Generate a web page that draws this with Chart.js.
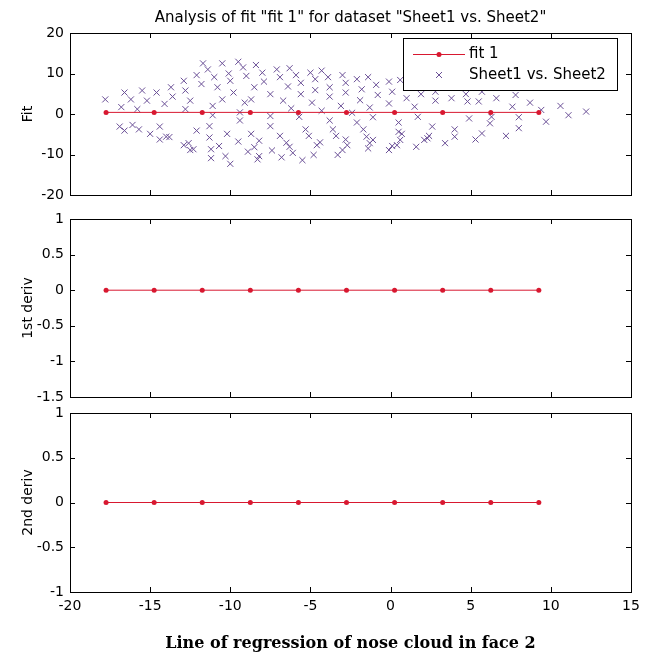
<!DOCTYPE html>
<html>
<head>
<meta charset="utf-8">
<script src="https://cdn.jsdelivr.net/npm/chart.js@4.4.1/dist/chart.umd.min.js"></script>
<style>
  body { margin: 0; background: #fff; }
  #wrap { position: relative; width: 650px; height: 655px; overflow: hidden; }
  canvas { position: absolute; left: 0; }
</style>
</head>
<body>
<div id="wrap">
  <canvas id="fitChart" width="650" height="215" style="top:0px"></canvas>
  <canvas id="d1Chart" width="650" height="215" style="top:200px"></canvas>
  <canvas id="d2Chart" width="650" height="260" style="top:395px"></canvas>
</div>
<script>
// fit evaluated at these x positions
const fitX = [-17.75, -14.75, -11.75, -8.75, -5.75, -2.75, 0.25, 3.25, 6.25, 9.25];
const fitY = [0.4, 0.4, 0.4, 0.4, 0.4, 0.4, 0.4, 0.4, 0.4, 0.4];
const deriv1 = [0, 0, 0, 0, 0, 0, 0, 0, 0, 0];
const deriv2 = [0, 0, 0, 0, 0, 0, 0, 0, 0, 0];

// data cloud (Sheet1 vs. Sheet2)
const cloudX = [
  -17.8, -16.8, -16.6, -16.2, -15.5, -15.2, -14.6, -15.8, -14.1, -13.7, -13.6, -12.9, -12.8, -12.5, -12.8,
  -12.1, -11.8, -11.7, -11.4, -11.0, -10.8, -11.1, -10.5, -10.5, -10.1, -10.0, -9.8, -9.5, -9.2, -9.0,
  -9.1, -8.7, -8.5, -8.4, -8.0, -7.9, -7.5, -7.1, -6.9, -6.7, -6.4, -6.3, -6.2, -5.9, -5.6,
  -5.6, -5.0, -4.9, -4.7, -4.7, -4.3, -4.3, -3.9, -3.8, -3.8, -3.1, -3.0, -2.8, -2.8, -2.1,
  -1.9, -2.4, -1.8, -1.4, -1.3, -0.9, -0.8, -0.1, 0.1, -0.1, 0.6, 1.0, 1.0, 1.5, 1.9,
  2.8, 2.8, 3.8, 4.7, 4.8, 5.7, 5.5, 6.6, 7.8, 7.6, 8.7, 9.4, 10.6, 11.1, 12.2,
  -9.4, -11.1, -7.5, -5.7, -16.9, -16.6, -16.1, -15.7, -15.0, -14.4, -14.4, -14.0, -13.8, -12.9, -12.6,
  -12.5, -12.3, -12.1, -11.3, -11.3, -11.2, -11.2, -10.7, -10.2, -10.3, -10.0, -9.5, -9.4, -8.9, -8.7,
  -8.5, -8.3, -8.2, -8.2, -7.5, -7.4, -6.9, -6.8, -6.5, -6.3, -6.1, -5.3, -5.5, -5.1, -4.8,
  -4.6, -4.4, -3.8, -3.6, -3.4, -3.3, -3.0, -2.8, -2.7, -2.1, -1.7, -1.5, -1.3, -1.4, -1.1,
  -1.1, -0.1, 0.1, 0.4, 0.5, 0.5, 0.6, 0.7, 1.6, 1.7, 2.1, 2.3, 2.4, 2.6, 3.4,
  4.0, 4.0, 4.9, 5.3, 5.7, 6.2, 6.3, 7.2, 8.0, 8.0, 9.7
];
const cloudY = [
  3.6, 1.7, 5.3, 3.6, 5.8, 3.3, 5.3, 1.2, 2.5, 6.6, 4.3, 8.2, 5.8, 3.3, 1.2,
  9.6, 7.4, 12.5, 11.0, 9.1, 6.6, 2.0, 3.6, 12.5, 10.0, 8.2, 5.3, 12.9, 11.5, 9.4,
  2.8, 3.6, 6.6, 12.1, 10.2, 8.0, 4.9, 11.0, 9.1, 3.3, 6.8, 11.3, 1.4, 9.6, 7.7,
  4.9, 10.2, 2.8, 8.6, 5.9, 10.7, 0.8, 9.1, 6.6, 4.3, 2.0, 9.6, 7.7, 5.3, 8.6,
  3.4, 0.3, 6.1, 9.1, 1.6, 7.2, 4.7, 8.0, 5.5, 2.6, 8.4, 3.9, 6.6, 1.8, 4.9,
  5.5, 3.3, 3.9, 4.9, 3.1, 5.5, 3.1, 3.9, 4.7, 1.8, 2.8, 1.0, 2.0, -0.3, 0.6,
  0.4, -0.3, -0.5, -0.7, -3.1, -4.1, -2.7, -3.8, -4.9, -3.1, -6.3, -5.6, -5.7, -7.7, -7.2,
  -8.9, -8.7, -4.1, -3.0, -5.8, -8.7, -10.9, -7.9, -4.9, -10.4, -12.3, -6.8, -1.6, -9.3, -4.9,
  -8.2, -11.2, -10.4, -6.6, -3.0, -9.0, -5.4, -10.7, -7.1, -8.1, -9.6, -3.8, -11.4, -5.4, -10.1,
  -7.7, -7.0, -1.6, -3.8, -5.4, -10.1, -8.9, -6.3, -7.7, -2.1, -3.8, -5.6, -7.2, -8.5, -6.4,
  -0.8, -8.9, -7.9, -7.7, -2.1, -4.4, -6.4, -4.9, -8.1, -0.7, -6.4, -6.0, -5.4, -3.1, -7.2,
  -5.6, -3.8, -1.1, -6.3, -4.8, -2.3, -0.7, -5.4, -3.5, -0.8, -1.9
];

const RED = '#d81830';
const PURPLE = '#6a4f96';
const FONT = 'DejaVu Sans';

function pts(xs, ys) {
  return xs.map((x, i) => ({ x: x, y: ys[i] }));
}

// MATLAB style: box all round, ticks pointing inward on all four sides
const matlabBox = {
  id: 'matlabBox',
  afterDraw(chart) {
    const { ctx, chartArea: a, scales } = chart;
    const len = 5;
    ctx.save();
    ctx.strokeStyle = '#000';
    ctx.lineWidth = 1;
    ctx.strokeRect(a.left + 0.5, a.top + 0.5, a.right - a.left, a.bottom - a.top);
    ctx.beginPath();
    scales.x.ticks.forEach(t => {
      const px = Math.round(scales.x.getPixelForValue(t.value)) + 0.5;
      ctx.moveTo(px, a.bottom); ctx.lineTo(px, a.bottom - len);
      ctx.moveTo(px, a.top); ctx.lineTo(px, a.top + len);
    });
    scales.y.ticks.forEach(t => {
      const py = Math.round(scales.y.getPixelForValue(t.value)) + 0.5;
      ctx.moveTo(a.left, py); ctx.lineTo(a.left + len, py);
      ctx.moveTo(a.right, py); ctx.lineTo(a.right - len, py);
    });
    ctx.stroke();
    ctx.restore();
  }
};

// boxed legend inside the top right corner of the plot area
const boxLegend = {
  id: 'boxLegend',
  afterDatasetsDraw(chart) {
    const { ctx, chartArea: a } = chart;
    const sets = chart.data.datasets;
    const w = 214, h = 52;
    const left = a.right - 14 - w, top = a.top + 5;
    ctx.save();
    ctx.fillStyle = '#fff';
    ctx.fillRect(left, top, w, h);
    ctx.strokeStyle = '#000';
    ctx.lineWidth = 1;
    ctx.strokeRect(left + 0.5, top + 0.5, w, h);

    const rows = [top + 16, top + 37];
    // fit line sample
    ctx.strokeStyle = sets[0].borderColor;
    ctx.beginPath();
    ctx.moveTo(left + 10, rows[0] + 0.5);
    ctx.lineTo(left + 62, rows[0] + 0.5);
    ctx.stroke();
    ctx.fillStyle = sets[0].borderColor;
    ctx.beginPath();
    ctx.arc(left + 36, rows[0] + 0.5, 2.5, 0, Math.PI * 2);
    ctx.fill();
    // cross sample
    ctx.strokeStyle = sets[1].borderColor;
    ctx.beginPath();
    ctx.moveTo(left + 33, rows[1] - 3); ctx.lineTo(left + 39, rows[1] + 3);
    ctx.moveTo(left + 39, rows[1] - 3); ctx.lineTo(left + 33, rows[1] + 3);
    ctx.stroke();

    ctx.fillStyle = '#000';
    ctx.font = '15px "' + FONT + '"';
    ctx.textBaseline = 'middle';
    ctx.fillText(sets[0].label, left + 66, rows[0]);
    ctx.fillText(sets[1].label, left + 66, rows[1]);
    ctx.restore();
  }
};

function yAxis(min, max, step, title) {
  return {
    type: 'linear',
    min: min,
    max: max,
    grid: { display: false, drawTicks: false },
    border: { display: false },
    ticks: {
      stepSize: step,
      color: '#000',
      padding: 6,
      font: { family: FONT, size: 14 },
      callback: v => String(v)
    },
    title: { display: true, text: title, color: '#000', font: { family: FONT, size: 14 }, padding: { top: 20 } },
    afterFit: s => { s.width = 70; }
  };
}

function xAxis(showLabels) {
  const ax = {
    type: 'linear',
    min: -20,
    max: 15,
    grid: { display: false, drawTicks: false },
    border: { display: false },
    ticks: { stepSize: 5, display: showLabels, color: '#000', padding: 6, font: { family: FONT, size: 14 } },
    afterFit: s => { s.height = showLabels ? 63 : 0; }
  };
  if (showLabels) {
    ax.title = {
      display: true,
      text: 'Line of regression of nose cloud in face 2',
      color: '#000',
      font: { family: 'DejaVu Serif', size: 16, weight: 'bold' },
      padding: { bottom: 2 }
    };
  }
  return ax;
}

function fitSet(label, ys) {
  return {
    label: label,
    data: pts(fitX, ys),
    showLine: true,
    borderColor: RED,
    backgroundColor: RED,
    borderWidth: 1,
    pointRadius: 2.5,
    pointBorderWidth: 0,
    pointBackgroundColor: RED
  };
}

const common = {
  responsive: false,
  animation: false,
  devicePixelRatio: 1,
  events: []
};

new Chart(document.getElementById('fitChart'), {
  type: 'scatter',
  data: {
    datasets: [
      fitSet('fit 1', fitY),
      {
        label: 'Sheet1 vs. Sheet2',
        data: pts(cloudX, cloudY),
        pointStyle: 'crossRot',
        pointRadius: 4.3,
        borderWidth: 1,
        borderColor: PURPLE,
        backgroundColor: PURPLE
      }
    ]
  },
  options: Object.assign({}, common, {
    layout: { padding: { left: 0, right: 19, top: 0, bottom: 20 } },
    scales: { x: xAxis(false), y: yAxis(-20, 20, 10, 'Fit') },
    plugins: {
      legend: { display: false },
      tooltip: { enabled: false },
      title: {
        display: true,
        fullSize: false,
        text: 'Analysis of fit "fit 1" for dataset "Sheet1 vs. Sheet2"',
        color: '#000',
        font: { family: FONT, size: 15, weight: 'normal' },
        padding: { top: 9, bottom: 6 }
      }
    }
  }),
  plugins: [matlabBox, boxLegend]
});

new Chart(document.getElementById('d1Chart'), {
  type: 'scatter',
  data: { datasets: [fitSet('1st deriv', deriv1)] },
  options: Object.assign({}, common, {
    layout: { padding: { left: 0, right: 19, top: 19, bottom: 18 } },
    scales: { x: xAxis(false), y: yAxis(-1.5, 1, 0.5, '1st deriv') },
    plugins: { legend: { display: false }, tooltip: { enabled: false } }
  }),
  plugins: [matlabBox]
});

new Chart(document.getElementById('d2Chart'), {
  type: 'scatter',
  data: { datasets: [fitSet('2nd deriv', deriv2)] },
  options: Object.assign({}, common, {
    layout: { padding: { left: 0, right: 19, top: 18, bottom: 0 } },
    scales: { x: xAxis(true), y: yAxis(-1, 1, 0.5, '2nd deriv') },
    plugins: { legend: { display: false }, tooltip: { enabled: false } }
  }),
  plugins: [matlabBox]
});
</script>
</body>
</html>
